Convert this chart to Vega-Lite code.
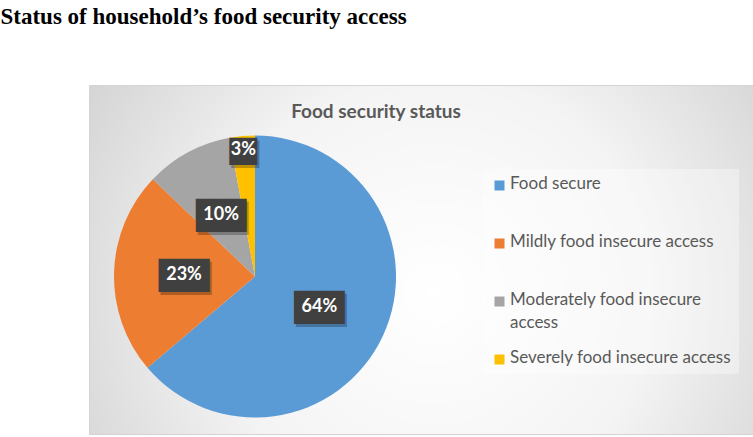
{
  "$schema": "https://vega.github.io/schema/vega-lite/v6.json",
  "padding": {"top": 5, "left": 0, "right": 0, "bottom": 0},
  "background": "#ffffff",
  "title": {
    "text": "Status of household’s food security access",
    "font": "Liberation Serif",
    "fontSize": 23,
    "fontWeight": "bold",
    "color": "#000000",
    "anchor": "start",
    "dx": -88,
    "offset": 56
  },
  "vconcat": [
    {
      "width": 664,
      "height": 349,
      "view": {
        "stroke": "#d4d4d4",
        "fill": {
          "gradient": "radial",
          "x1": 0.52, "y1": 0.55, "r1": 0,
          "x2": 0.52, "y2": 0.55, "r2": 0.72,
          "stops": [
            {"offset": 0, "color": "#ffffff"},
            {"offset": 0.45, "color": "#f4f4f4"},
            {"offset": 1, "color": "#c8c8c8"}
          ]
        }
      },
      "title": {
        "text": "Food security status",
        "font": "Lato",
        "fontSize": 19,
        "fontWeight": "bold",
        "color": "#595959",
        "anchor": "middle",
        "dx": -45,
        "offset": -52,
        "baseline": "alphabetic"
      },
      "data": {
        "values": [
          {"status": "Food secure", "share": 0.638},
          {"status": "Mildly food insecure access", "share": 0.233},
          {"status": "Moderately food insecure access", "share": 0.100},
          {"status": "Severely food insecure access", "share": 0.029}
        ]
      },
      "layer": [
        {
          "mark": {"type": "arc", "outerRadius": 141, "x": 166, "y": 191.5, "strokeWidth": 0},
          "encoding": {
            "theta": {"field": "share", "type": "quantitative", "stack": true},
            "order": {"field": "status", "type": "nominal"},
            "color": {
              "field": "status",
              "type": "nominal",
              "scale": {
                "domain": ["Food secure", "Mildly food insecure access", "Moderately food insecure access", "Severely food insecure access"],
                "range": ["#5b9bd5", "#ed7d31", "#a5a5a5", "#ffc000"]
              },
              "legend": {
                "title": null,
                "orient": "none",
                "legendX": 394,
                "legendY": 84,
                "padding": 8,
                "fillColor": "rgba(255,255,255,0.35)",
                "symbolType": "square",
                "symbolSize": 100,
                "symbolStrokeWidth": 0,
                "labelFont": "Lato",
                "labelFontSize": 17,
                "labelColor": "#595959",
                "labelOffset": 2,
                "labelLimit": 300,
                "rowPadding": 17,
                "gridAlign": "all",
                "labelBaseline": "top",
                "labelExpr": "datum.label == 'Moderately food insecure access' ? ['Moderately food insecure', 'access'] : datum.label",
                "encode": {"labels": {"update": {"dy": {"value": -10}, "lineHeight": {"value": 23}}}}
              }
            }
          }
        },
        {
          "mark": {"type": "text", "x": 168, "y": 194.5, "dy": 3, "font": "DejaVu Sans Mono", "baseline": "middle", "align": "center", "color": "#000000", "opacity": 0.25, "radius": {"expr": "datum.share < 0.05 ? 128 : 71"}},
          "encoding": {
            "theta": {"field": "share", "type": "quantitative", "stack": true},
            "order": {"field": "status", "type": "nominal"},
            "detail": {"field": "status"},
            "text": {"condition": {"test": "datum.share < 0.05", "value": "██"}, "value": "███"},
            "size": {"condition": {"test": "datum.share < 0.05", "value": 23}, "value": 28}
          }
        },
        {
          "mark": {"type": "text", "x": 166, "y": 191.5, "dy": 3, "font": "DejaVu Sans Mono", "baseline": "middle", "align": "center", "color": "#404040", "radius": {"expr": "datum.share < 0.05 ? 128 : 71"}},
          "encoding": {
            "theta": {"field": "share", "type": "quantitative", "stack": true},
            "order": {"field": "status", "type": "nominal"},
            "detail": {"field": "status"},
            "text": {"condition": {"test": "datum.share < 0.05", "value": "██"}, "value": "███"},
            "size": {"condition": {"test": "datum.share < 0.05", "value": 23}, "value": 28}
          }
        },
        {
          "mark": {"type": "text", "x": 166, "y": 191.5, "dy": 1, "font": "Lato", "fontSize": 18, "fontWeight": "bold", "baseline": "middle", "align": "center", "color": "#ffffff", "radius": {"expr": "datum.share < 0.05 ? 128 : 71"}},
          "encoding": {
            "theta": {"field": "share", "type": "quantitative", "stack": true},
            "order": {"field": "status", "type": "nominal"},
            "detail": {"field": "status"},
            "text": {"field": "share", "type": "quantitative", "format": ".0%"}
          }
        }
      ]
    }
  ]
}
